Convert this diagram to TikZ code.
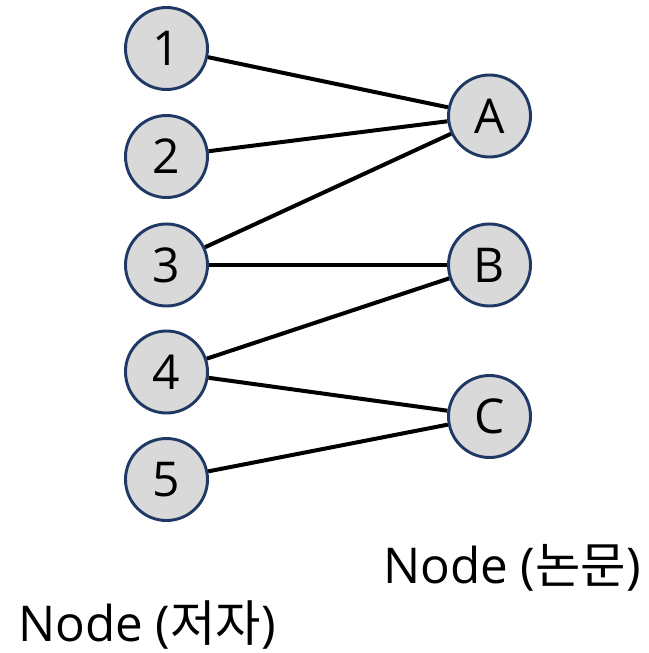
\documentclass[tikz,border=0pt]{standalone}
\usepackage{fontspec}
\setmainfont{Open Sans}
\newfontfamily\kor{Noto Sans CJK KR}
\definecolor{nodeedge}{HTML}{203864}
\definecolor{nodefill}{HTML}{D9D9D9}
\begin{document}
\begin{tikzpicture}[x=0.75pt,y=-0.75pt,
  vertex/.style={circle,draw=nodeedge,fill=nodefill,line width=2.2pt,
    minimum size=61.5pt,inner sep=0pt,font=\fontsize{36}{40}\selectfont},
  link/.style={line width=3pt,black},
  caption/.style={anchor=base west,inner sep=0pt,font=\fontsize{37}{42}\selectfont}]
\useasboundingbox (0,0) rectangle (649,653);
% authors (left column)
\node[vertex] (n1) at (166.5,48.5) {1};
\node[vertex] (n2) at (166.5,156.5) {2};
\node[vertex] (n3) at (166.5,265) {3};
\node[vertex] (n4) at (166.5,372) {4};
\node[vertex] (n5) at (166.5,479.5) {5};
% papers (right column)
\node[vertex] (pA) at (489.5,116) {A};
\node[vertex] (pB) at (489.5,265) {B};
\node[vertex] (pC) at (489.5,416.5) {C};
% authorship links
\draw[link] (n1) -- (pA);
\draw[link] (n2) -- (pA);
\draw[link] (n3) -- (pA);
\draw[link] (n3) -- (pB);
\draw[link] (n4) -- (pB);
\draw[link] (n4) -- (pC);
\draw[link] (n5) -- (pC);
% column captions
\node[caption] (capP) at (383,583) {Node ({\kor 논문})};
\node[caption] (capA) at (18,641) {Node ({\kor 저자})};
\end{tikzpicture}
\end{document}
